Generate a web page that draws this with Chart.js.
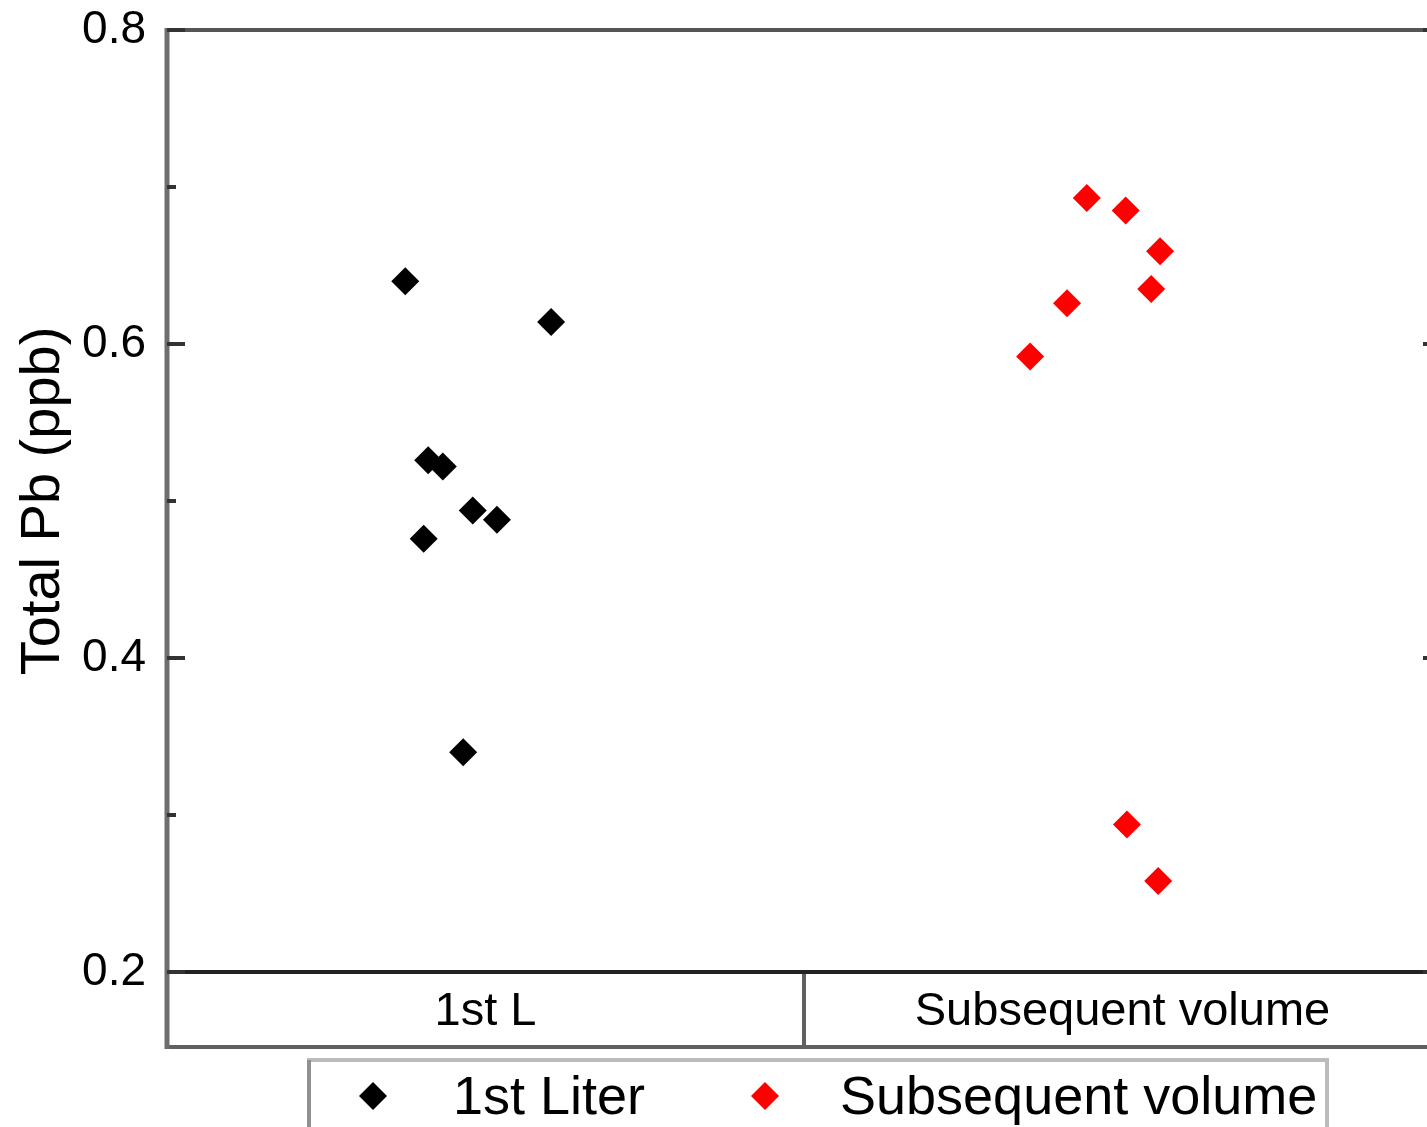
<!DOCTYPE html>
<html>
<head>
<meta charset="utf-8">
<title>Total Pb</title>
<script src="https://cdn.jsdelivr.net/npm/chart.js@4/dist/chart.umd.min.js"></script>
<style>
  html, body { margin: 0; padding: 0; overflow: hidden; background: #fff; }
  #wrap { width: 1443px; height: 1127px; position: relative; }
  #pbChart { display: block; }
</style>
</head>
<body>
<div id="wrap"><canvas id="pbChart" width="1443" height="1127"></canvas></div>
<script>
// Sample groups along the x axis
const categories = ["1st L", "Subsequent volume"];
const categoryCenters = [0.5, 1.5];

// 1st liter samples (x = jitter inside group, y = total Pb in ppb)
const firstLiterX = [0.374, 0.603, 0.410, 0.433, 0.480, 0.518, 0.403, 0.465];
const firstLiterY = [0.640, 0.614, 0.526, 0.522, 0.494, 0.488, 0.476, 0.340];

// Subsequent volume samples
const subsequentX = [1.444, 1.505, 1.559, 1.545, 1.413, 1.355, 1.507, 1.556];
const subsequentY = [0.693, 0.685, 0.659, 0.635, 0.626, 0.592, 0.294, 0.258];

// Y axis ticks
const yMajorTicks = [0.2, 0.4, 0.6, 0.8];
const yMinorTicks = [0.3, 0.5, 0.7];
const yTickLabels = ["0.2", "0.4", "0.6", "0.8"];

const FONT = 'Arial, "Liberation Sans", sans-serif';

function toPoints(xs, ys) {
    return xs.map((x, i) => ({ x: x, y: ys[i] }));
}

// no extra room for label overflow, the layout padding handles it
function dropLabelPadding(scale) {
    scale.paddingTop = 0;
    scale.paddingBottom = 0;
    scale.paddingLeft = 0;
    scale.paddingRight = 0;
}

// Frame, category box and inward ticks
const framePlugin = {
    id: "frame",
    afterDraw(chart) {
        const ctx = chart.ctx;
        const area = chart.chartArea;
        const xs = chart.scales.x;
        const ys = chart.scales.y;
        const boxBottom = xs.bottom;

        ctx.save();
        ctx.lineCap = "butt";

        // top and right border
        ctx.strokeStyle = "#555";
        ctx.lineWidth = 4;
        ctx.beginPath();
        ctx.moveTo(area.left, area.top);
        ctx.lineTo(area.right, area.top);
        ctx.lineTo(area.right, boxBottom);
        ctx.stroke();

        // bottom of the category box and the divider between groups
        ctx.strokeStyle = "#606060";
        ctx.beginPath();
        ctx.moveTo(area.left, boxBottom);
        ctx.lineTo(area.right, boxBottom);
        const mid = xs.getPixelForValue(1);
        ctx.moveTo(mid, area.bottom);
        ctx.lineTo(mid, boxBottom);
        ctx.stroke();

        // x axis line at 0.2
        ctx.strokeStyle = "#222";
        ctx.beginPath();
        ctx.moveTo(area.left, area.bottom);
        ctx.lineTo(area.right, area.bottom);
        ctx.stroke();

        // left axis
        ctx.strokeStyle = "#6e6e6e";
        ctx.lineWidth = 5;
        ctx.beginPath();
        ctx.moveTo(area.left, area.top - 2);
        ctx.lineTo(area.left, boxBottom + 2);
        ctx.stroke();

        // inward ticks on both sides
        ctx.strokeStyle = "#333";
        ctx.lineWidth = 4;
        ctx.beginPath();
        yMajorTicks.forEach(v => {
            const py = ys.getPixelForValue(v);
            ctx.moveTo(area.left, py);
            ctx.lineTo(area.left + 18, py);
            ctx.moveTo(area.right, py);
            ctx.lineTo(area.right - 18, py);
        });
        yMinorTicks.forEach(v => {
            const py = ys.getPixelForValue(v);
            ctx.moveTo(area.left, py);
            ctx.lineTo(area.left + 9, py);
            ctx.moveTo(area.right, py);
            ctx.lineTo(area.right - 9, py);
        });
        ctx.stroke();
        ctx.restore();
    }
};

// Boxed legend below the chart
const legendBoxPlugin = {
    id: "legendBox",
    afterDraw(chart) {
        const ctx = chart.ctx;
        const markerX = [373, 765];
        const textX = [453, 840];
        const rowY = 1096;

        ctx.save();
        ctx.strokeStyle = "#bbb";
        ctx.lineWidth = 4;
        ctx.strokeRect(309, 1060, 1018, 120);
        ctx.strokeStyle = "#909090";
        ctx.beginPath();
        ctx.moveTo(309, 1060);
        ctx.lineTo(309, 1130);
        ctx.stroke();

        chart.data.datasets.forEach((ds, i) => {
            const r = 14;
            ctx.fillStyle = ds.backgroundColor;
            ctx.beginPath();
            ctx.moveTo(markerX[i], rowY - r);
            ctx.lineTo(markerX[i] + r, rowY);
            ctx.lineTo(markerX[i], rowY + r);
            ctx.lineTo(markerX[i] - r, rowY);
            ctx.closePath();
            ctx.fill();

            ctx.fillStyle = "#000";
            ctx.font = "54px " + FONT;
            ctx.textBaseline = "alphabetic";
            ctx.textAlign = "left";
            ctx.fillText(ds.label, textX[i], 1114);
        });
        ctx.restore();
    }
};

const ctx = document.getElementById("pbChart").getContext("2d");
const pbChart = new Chart(ctx, {
    type: "scatter",
    data: {
        datasets: [
            {
                label: "1st Liter",
                data: toPoints(firstLiterX, firstLiterY),
                backgroundColor: "#000000",
                borderColor: "#000000",
            },
            {
                label: "Subsequent volume",
                data: toPoints(subsequentX, subsequentY),
                backgroundColor: "#ff0000",
                borderColor: "#ff0000",
            },
        ],
    },
    options: {
        responsive: false,
        maintainAspectRatio: false,
        animation: false,
        devicePixelRatio: 1,
        layout: {
            autoPadding: false,
            padding: { top: 30, right: 2, bottom: 80, left: 0 },
        },
        elements: {
            point: { pointStyle: "rectRot", radius: 14, borderWidth: 0, hoverRadius: 14 },
        },
        plugins: {
            legend: { display: false },
            tooltip: { enabled: false },
        },
        scales: {
            x: {
                type: "linear",
                min: 0,
                max: 2,
                grid: { display: false, drawTicks: false },
                border: { display: false },
                afterBuildTicks: (scale) => {
                    scale.ticks = categoryCenters.map(v => ({ value: v }));
                },
                afterFit: (scale) => {
                    scale.height = 75;
                    dropLabelPadding(scale);
                },
                ticks: {
                    autoSkip: false,
                    maxRotation: 0,
                    padding: 12,
                    color: "#000",
                    font: { family: FONT, size: 47 },
                    callback: (value, index) => categories[index],
                },
            },
            y: {
                min: 0.2,
                max: 0.8,
                grid: { display: false, drawTicks: false },
                border: { display: false },
                afterBuildTicks: (scale) => {
                    scale.ticks = yMajorTicks.map(v => ({ value: v }));
                },
                afterFit: (scale) => {
                    scale.width = 167;
                    dropLabelPadding(scale);
                },
                ticks: {
                    padding: 21,
                    color: "#000",
                    font: { family: FONT, size: 46 },
                    callback: (value, index) => yTickLabels[index],
                },
                title: {
                    display: true,
                    text: "Total Pb (ppb)",
                    color: "#000",
                    font: { family: FONT, size: 56 },
                    padding: { top: 10, bottom: 0 },
                },
            },
        },
    },
    plugins: [framePlugin, legendBoxPlugin],
});
</script>
</body>
</html>
